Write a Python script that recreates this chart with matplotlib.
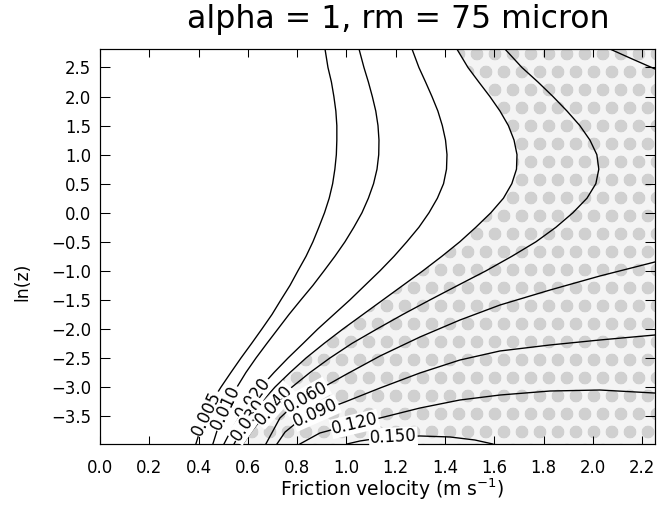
import numpy as np
import matplotlib.pyplot as plt

# ln(z) rows at which the five left-hand contours were traced
lnz_rows = [2.818, 2.5, 2.25, 2.0, 1.75, 1.5, 1.25, 1.0, 0.75, 0.5, 0.25, 0.0, -0.25, -0.5,
            -0.75, -1.0, -1.25, -1.5, -1.75, -2.0, -2.25, -2.5, -2.75, -3.0, -3.25, -3.5, -3.75, -3.98]

# friction velocity (m/s) of each contour on those rows
c005_u = [0.913, 0.925, 0.939, 0.949, 0.957, 0.961, 0.961, 0.959, 0.953, 0.944, 0.930, 0.911, 0.888, 0.864,
          0.836, 0.803, 0.771, 0.734, 0.698, 0.657, 0.615, 0.572, 0.531, 0.491, 0.454, 0.426, 0.406, 0.389]
c010_u = [1.051, 1.071, 1.089, 1.105, 1.119, 1.128, 1.132, 1.131, 1.124, 1.110, 1.089, 1.063, 1.030, 0.994,
          0.953, 0.909, 0.864, 0.815, 0.767, 0.722, 0.677, 0.633, 0.592, 0.556, 0.523, 0.495, 0.475, 0.458]
c020_u = [1.266, 1.294, 1.321, 1.347, 1.371, 1.389, 1.402, 1.408, 1.406, 1.394, 1.369, 1.335, 1.294, 1.245,
          1.193, 1.136, 1.075, 1.014, 0.949, 0.884, 0.824, 0.763, 0.706, 0.653, 0.609, 0.568, 0.531, 0.503]
c030_u = [1.448, 1.493, 1.537, 1.582, 1.623, 1.657, 1.680, 1.692, 1.690, 1.671, 1.637, 1.586, 1.525, 1.460,
          1.387, 1.310, 1.229, 1.148, 1.067, 0.986, 0.909, 0.836, 0.771, 0.710, 0.657, 0.613, 0.572, 0.544]
c040_u = [1.643, 1.712, 1.777, 1.838, 1.895, 1.947, 1.988, 2.016, 2.024, 2.012, 1.976, 1.919, 1.850, 1.769,
          1.671, 1.566, 1.452, 1.339, 1.229, 1.124, 1.022, 0.933, 0.852, 0.779, 0.718, 0.665, 0.617, 0.580]

# contours on the right side, traced as (u, ln z) pairs
c060a_u = [2.069, 2.150, 2.252]
c060a_lnz = [2.818, 2.664, 2.474]

c060_u = [2.252, 2.028, 1.826, 1.623, 1.460, 1.298, 1.136, 0.994, 0.872, 0.799, 0.730, 0.673]
c060_lnz = [-0.847, -1.089, -1.330, -1.588, -1.847, -2.139, -2.466, -2.793, -3.085, -3.257, -3.533, -3.980]

c090_u = [2.252, 2.028, 1.826, 1.623, 1.460, 1.298, 1.136, 0.994, 0.884, 0.811, 0.751, 0.718]
c090_lnz = [-2.104, -2.190, -2.276, -2.379, -2.535, -2.758, -3.017, -3.257, -3.430, -3.567, -3.774, -3.980]

c120_u = [2.252, 2.028, 1.826, 1.623, 1.460, 1.298, 1.136, 0.982, 0.892, 0.811]
c120_lnz = [-3.103, -3.051, -3.068, -3.137, -3.223, -3.361, -3.533, -3.688, -3.791, -3.980]

c150_u = [1.002, 1.055, 1.136, 1.298, 1.420, 1.521, 1.594]
c150_lnz = [-3.980, -3.928, -3.876, -3.842, -3.859, -3.911, -3.980]

xticks = [0.0, 0.2, 0.4, 0.6, 0.8, 1.0, 1.2, 1.4, 1.6, 1.8, 2.0, 2.2]
xtick_labels = ["0.0", "0.2", "0.4", "0.6", "0.8", "1.0", "1.2", "1.4", "1.6", "1.8", "2.0", "2.2"]
yticks = [-3.5, -3.0, -2.5, -2.0, -1.5, -1.0, -0.5, 0.0, 0.5, 1.0, 1.5, 2.0, 2.5]
ytick_labels = ["\u22123.5", "\u22123.0", "\u22122.5", "\u22122.0", "\u22121.5", "\u22121.0", "\u22120.5",
                "0.0", "0.5", "1.0", "1.5", "2.0", "2.5"]

xmin, xmax = 0.0, 2.252
ymin, ymax = -3.98, 2.818

plt.rcParams["hatch.linewidth"] = 3.6

DPI = 108
fig = plt.figure(figsize=(669 / DPI, 506 / DPI), dpi=DPI)
ax = fig.add_axes([100 / 669, 62 / 506, 555 / 669, 395 / 506])
ax.set_xlim(xmin, xmax)
ax.set_ylim(ymin, ymax)

# stippled region: right of the 0.030 line
shade_u = c030_u + [xmax, xmax]
shade_lnz = lnz_rows + [ymin, ymax]
ax.fill(shade_u, shade_lnz, facecolor="#f4f4f4", edgecolor="#d0d0d0", hatch="o", linewidth=0, zorder=1)

curves = [
    ("0.005", c005_u, lnz_rows, ("y", -3.447)),
    ("0.010", c010_u, lnz_rows, ("y", -3.361)),
    ("0.020", c020_u, lnz_rows, ("y", -3.189)),
    ("0.030", c030_u, lnz_rows, ("y", -3.567)),
    ("0.040", c040_u, lnz_rows, ("y", -3.309)),
    ("0.060", c060_u, c060_lnz, ("y", -3.171)),
    ("0.090", c090_u, c090_lnz, ("y", -3.447)),
    ("0.120", c120_u, c120_lnz, ("y", -3.636)),
    ("0.150", c150_u, c150_lnz, ("x", 1.19)),
]

for name, xs, ys, where in curves:
    ax.plot(xs, ys, color="black", lw=0.9, zorder=2)
ax.plot(c060a_u, c060a_lnz, color="black", lw=0.9, zorder=2)


def label_on(xs, ys, text, where):
    kind, val = where
    for i in range(len(xs) - 1, 0, -1):
        xa, ya, xb, yb = xs[i - 1], ys[i - 1], xs[i], ys[i]
        a, b = (ya, yb) if kind == "y" else (xa, xb)
        if min(a, b) <= val <= max(a, b) and a != b:
            t = (val - a) / (b - a)
            break
    x = xa + t * (xb - xa)
    y = ya + t * (yb - ya)
    p1 = ax.transData.transform((xa, ya))
    p2 = ax.transData.transform((xb, yb))
    ang = np.degrees(np.arctan2(p2[1] - p1[1], p2[0] - p1[0]))
    if ang > 90:
        ang -= 180
    if ang < -90:
        ang += 180
    ax.text(x, y, text, rotation=ang, rotation_mode="anchor", ha="center", va="center",
            fontsize=11, zorder=3,
            bbox=dict(boxstyle="square,pad=0.05", facecolor="white", edgecolor="none"))


for name, xs, ys, where in curves:
    label_on(xs, ys, name, where)

ax.set_xticks(xticks)
ax.set_xticklabels(xtick_labels)
ax.set_yticks(yticks)
ax.set_yticklabels(ytick_labels)
ax.tick_params(axis="both", direction="in", top=True, right=True, labelsize=11, width=0.7)
ax.tick_params(axis="x", length=5.3, pad=10)
ax.tick_params(axis="y", length=6.7, pad=6)
for s in ax.spines.values():
    s.set_linewidth(0.8)

fig.text(398 / 669, 1 - 28 / 506, "alpha = 1, rm = 75 micron", ha="center", va="baseline", fontsize=21)
fig.text(392 / 669, 1 - 496 / 506, "Friction velocity (m s$^{-1}$)", ha="center", va="baseline", fontsize=12.5)
fig.text(22 / 669, 1 - 282 / 506, "ln(z)", rotation=90, ha="center", va="center", fontsize=11.5)

fig.savefig("out.png", dpi=DPI)
